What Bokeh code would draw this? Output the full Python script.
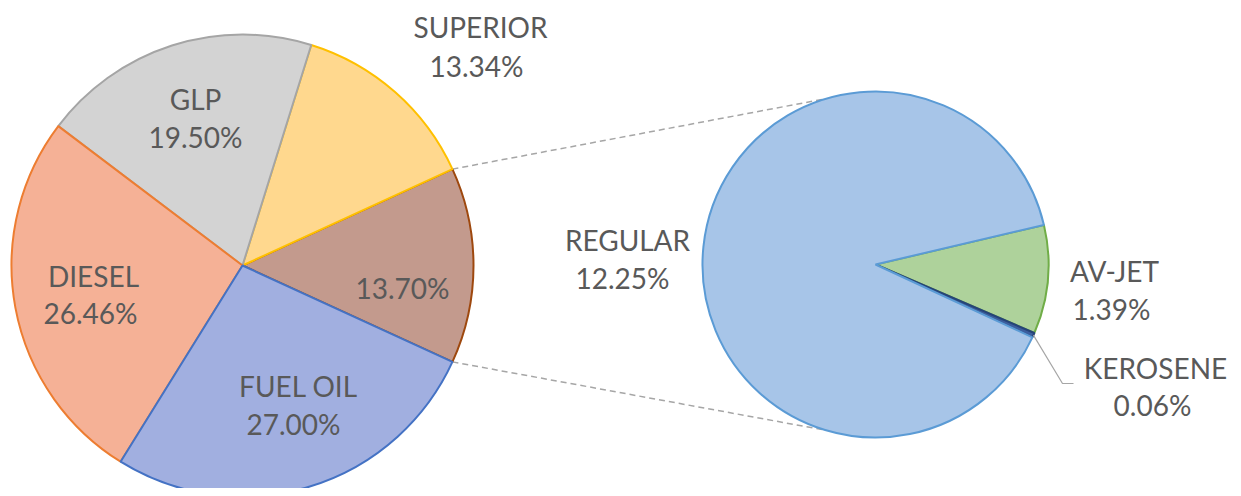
import numpy as np
from bokeh.plotting import figure
from bokeh.models import Range1d
from bokeh.core.properties import value
from bokeh.embed import file_html
from bokeh.resources import INLINE

# ---- data ----
main_labels = ["OTHER", "SUPERIOR", "GLP", "DIESEL", "FUEL OIL"]
main_values = [13.70, 13.34, 19.50, 26.46, 27.00]
sub_labels = ["AV-JET", "KEROSENE", "REGULAR"]
sub_values = [1.39, 0.06, 12.25]

# ---- styles ----
main_fill = ["#C39A8D", "#FFD88E", "#D3D3D3", "#F5B196", "#A1AFE0"]
main_line = ["#9E480E", "#FFC000", "#A5A5A5", "#ED7D31", "#4472C4"]
sub_fill = ["#AED29B", "#3D5E9E", "#A7C5E8"]
sub_line = ["#70AD47", "#264478", "#5B9BD5"]
TXT = "#595959"
FONT = value("Lato")

W, H = 1233, 488
p = figure(width=W, height=H, output_backend="svg", toolbar_location=None,
           x_range=Range1d(0, W), y_range=Range1d(-H, 0),
           min_border=0)
p.axis.visible = False
p.grid.visible = False
p.outline_line_color = None

# layout
c1x, c1y, r1 = 242, -265, 231
c2x, c2y, r2 = 875, -264, 173
sub_start = np.deg2rad(13.2)

# main pie angles (anticlockwise, OTHER centered on 0)
mv = np.array(main_values)
frac = mv / mv.sum() * 2 * np.pi
a0 = -frac[0] / 2
starts, ends = [], []
a = a0
for f in frac:
    starts.append(a)
    ends.append(a + f)
    a += f

# connector lines
ox_top = c1x + r1 * np.cos(ends[0]); oy_top = c1y + r1 * np.sin(ends[0])
ox_bot = c1x + r1 * np.cos(starts[0]); oy_bot = c1y + r1 * np.sin(starts[0])
ang_t = np.deg2rad(106.5)
p.line([ox_top, c2x + r2 * np.cos(ang_t)], [oy_top, c2y + r2 * np.sin(ang_t)],
       line_color="#A6A6A6", line_width=1.5, line_dash="6 4")
p.line([ox_bot, c2x + r2 * np.cos(-ang_t)], [oy_bot, c2y + r2 * np.sin(-ang_t)],
       line_color="#A6A6A6", line_width=1.5, line_dash="6 4")

p.wedge(x=c1x, y=c1y, radius=r1, start_angle=starts, end_angle=ends,
        fill_color=main_fill, line_color=main_line, line_width=2)

# sub pie (clockwise from sub_start)
sv = np.array(sub_values)
sfrac = sv / sv.sum() * 2 * np.pi
s_st, s_en = [], []
a = sub_start
for f in sfrac:
    s_en.append(a)
    s_st.append(a - f)
    a -= f
p.wedge(x=c2x, y=c2y, radius=r2, start_angle=s_st, end_angle=s_en,
        fill_color=sub_fill, line_color=sub_line, line_width=2)

# kerosene leader line
km = s_st[1] + (s_en[1] - s_st[1]) / 2
kx0 = c2x + r2 * np.cos(km); ky0 = c2y + r2 * np.sin(km)
p.line([kx0, 1062, 1073], [ky0, -383, -383], line_color="#A6A6A6", line_width=1.2)

# labels
def pct(v):
    return f"{v:.2f}%"

lab_pos = {
    "SUPERIOR": ((480, -26), (476, -65)),
    "GLP": ((195, -98), (195, -136)),
    "DIESEL": ((93, -275), (90, -312)),
    "FUEL OIL": ((298, -385), (293, -423)),
    "REGULAR": ((627, -239), (622, -277)),
    "AV-JET": ((1114, -270), (1111, -308)),
    "KEROSENE": ((1155, -367), (1152, -404)),
}
xs, ys, ts = [], [], []
for name, v in zip(main_labels, main_values):
    if name == "OTHER":
        xs.append(402); ys.append(-287); ts.append(pct(v))
        continue
    (x1, y1), (x2, y2) = lab_pos[name]
    xs += [x1, x2]; ys += [y1, y2]; ts += [name, pct(v)]
for name, v in zip(sub_labels, sub_values):
    (x1, y1), (x2, y2) = lab_pos[name]
    xs += [x1, x2]; ys += [y1, y2]; ts += [name, pct(v)]

p.text(x=xs, y=ys, text=ts, text_font=FONT, text_font_size="28px",
       text_color=TXT, text_align="center", text_baseline="middle")

open("out.html", "w").write(file_html(p, INLINE))
